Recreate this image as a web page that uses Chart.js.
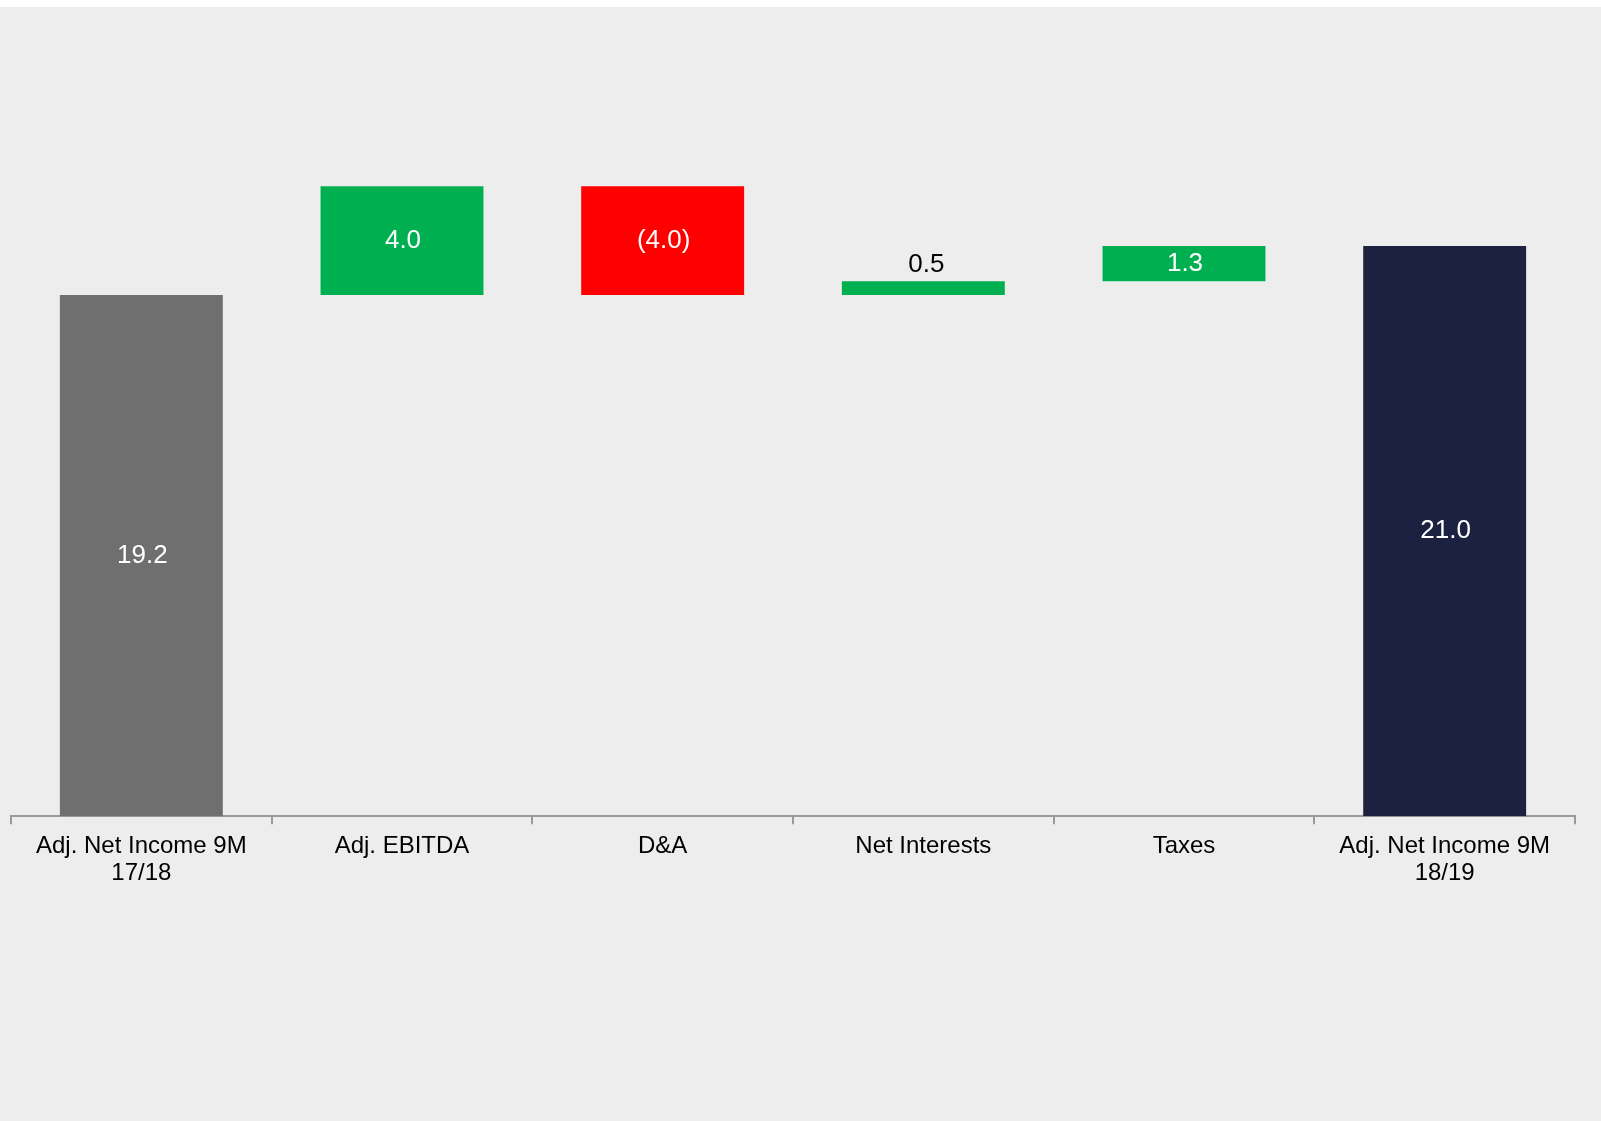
<!DOCTYPE html>
<html>
<head>
<meta charset="utf-8">
<script src="https://cdn.jsdelivr.net/npm/chart.js@4/dist/chart.umd.min.js"></script>
<style>
  html, body { margin: 0; padding: 0; background: #ffffff; }
  #wrap { position: absolute; left: 0; top: 7px; width: 1601px; height: 1114px; background: #ededed; }
</style>
</head>
<body>
<div id="wrap"><canvas id="bridge" width="1601" height="1114"></canvas></div>
<script>
// net income bridge, 9M 17/18 -> 9M 18/19
const categories = [
  ['Adj. Net Income 9M', '17/18'],
  'Adj. EBITDA',
  'D&A',
  'Net Interests',
  'Taxes',
  ['Adj. Net Income 9M', '18/19']
];
const amounts = [19.2, 4.0, -4.0, 0.5, 1.3, 21.0];
const isTotal = [true, false, false, false, false, true];
const barColors = ['#6f6f6f', '#00b050', '#ff0000', '#00b050', '#00b050', '#1c2142'];

// floating ranges: totals stand on zero, changes start where the running total is
let running = 0;
const ranges = amounts.map((v, i) => {
  if (isTotal[i]) { running = v; return [0, v]; }
  const from = running;
  running += v;
  return [from, running];
});

const fmt = v => v < 0 ? '(' + Math.abs(v).toFixed(1) + ')' : v.toFixed(1);

const valueLabels = {
  id: 'valueLabels',
  afterDatasetsDraw(chart) {
    const ctx = chart.ctx;
    const meta = chart.getDatasetMeta(0);
    ctx.save();
    ctx.font = '26px "Liberation Sans", Arial, sans-serif';
    ctx.textAlign = 'center';
    ctx.textBaseline = 'middle';
    meta.data.forEach((bar, i) => {
      const { x, y, base } = bar.getProps(['x', 'y', 'base'], true);
      const top = Math.min(y, base);
      const h = Math.abs(base - y);
      if (h < 30) {
        ctx.fillStyle = '#000000';
        ctx.fillText(fmt(amounts[i]), x + 3, top - 17);
      } else {
        ctx.fillStyle = '#ffffff';
        ctx.fillText(fmt(amounts[i]), x + 1, top + h / 2);
      }
    });
    ctx.restore();
  }
};

new Chart(document.getElementById('bridge'), {
  type: 'bar',
  data: {
    labels: categories,
    datasets: [{
      data: ranges,
      backgroundColor: barColors,
      borderWidth: 0,
      barPercentage: 0.625,
      categoryPercentage: 1
    }]
  },
  options: {
    responsive: false,
    animation: false,
    layout: { padding: { left: 11, right: 26, top: 49, bottom: 225 } },
    plugins: { legend: { display: false }, tooltip: { enabled: false } },
    scales: {
      x: {
        offset: true,
        grid: { display: true, drawOnChartArea: false, drawTicks: true, tickLength: 8, color: '#9a9a9a', lineWidth: 2, offset: true },
        border: { display: true, color: '#9a9a9a', width: 2 },
        ticks: {
          color: '#000000',
          padding: 9,
          maxRotation: 0,
          autoSkip: false,
          font: { family: '"Liberation Sans", Arial, sans-serif', size: 24, lineHeight: 1.12 }
        }
      },
      y: { display: false, min: 0, max: 28 }
    }
  },
  plugins: [valueLabels]
});
</script>
</body>
</html>
